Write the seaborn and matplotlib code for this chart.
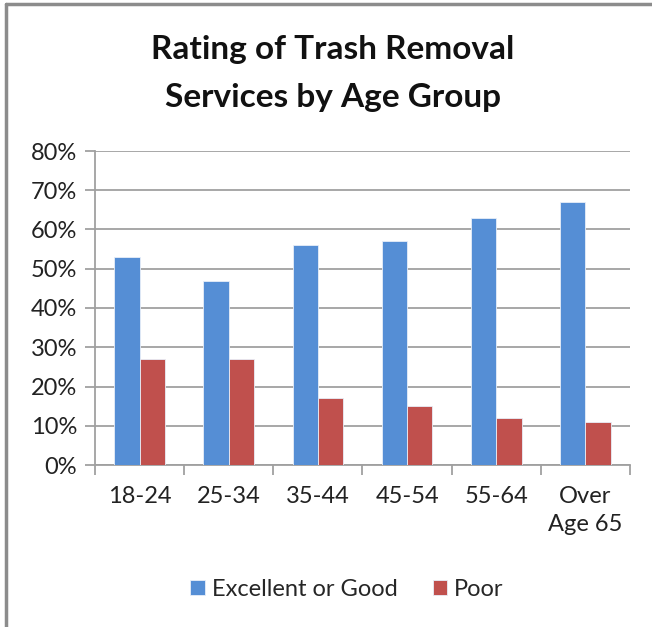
import pandas as pd
import numpy as np
import matplotlib
matplotlib.use("Agg")
import matplotlib.pyplot as plt
from matplotlib.lines import Line2D
from matplotlib.ticker import FuncFormatter, FixedLocator
import seaborn as sns

# ----------------------------------------------------------------------
# data
# ----------------------------------------------------------------------
age_groups = ["18-24", "25-34", "35-44", "45-54", "55-64", "Over\nAge 65"]
excellent_good = [53, 47, 56, 57, 63, 67]
poor = [27, 27, 17, 15, 12, 11]
series_names = ["Excellent or Good", "Poor"]
colors = ["#558ED5", "#C0504D"]

df = pd.DataFrame({
    "age": age_groups * 2,
    "pct": excellent_good + poor,
    "rating": [series_names[0]] * len(age_groups) + [series_names[1]] * len(age_groups),
})

sns.set_style("white")
plt.rcParams["font.family"] = ["Lato", "DejaVu Sans"]

fig = plt.figure(figsize=(6.52, 6.27), dpi=100)
ax = fig.add_axes([95 / 652, 1 - 465 / 627, (630 - 95) / 652, (465 - 151) / 627])

sns.barplot(data=df, x="age", y="pct", hue="rating", palette=colors, saturation=1,
            width=0.57, edgecolor="#E8EEF8", linewidth=0.6, ax=ax, zorder=3)

ax.set_ylim(0, 80)
ax.set_xlim(-0.5, len(age_groups) - 0.5)
ax.set_yticks(range(0, 81, 10))
ax.yaxis.set_major_formatter(FuncFormatter(lambda v, p: f"{int(v)}%"))
ax.yaxis.grid(True, color="#A0A0A0", linewidth=1.3, zorder=0)
ax.set_axisbelow(True)

# category boundary ticks on the x axis
ax.xaxis.set_minor_locator(FixedLocator(np.arange(-0.5, len(age_groups), 1.0)))
ax.tick_params(axis="x", which="major", length=0, labelsize=17, pad=15, colors="#222222")
ax.tick_params(axis="x", which="minor", length=7, width=1.3, color="#A0A0A0", bottom=True)
ax.tick_params(axis="y", which="major", length=7, width=1.3, color="#A0A0A0",
               left=True, labelsize=17, pad=6, labelcolor="#222222")
for lbl in ax.get_xticklabels():
    lbl.set_linespacing(1.45)

for side in ["top", "right"]:
    ax.spines[side].set_visible(False)
for side in ["left", "bottom"]:
    ax.spines[side].set_color("#A0A0A0")
    ax.spines[side].set_linewidth(1.3)

ax.set_xlabel("")
ax.set_ylabel("")

ax.legend(loc="center", bbox_to_anchor=(347 / 652, 1 - 589 / 627),
          bbox_transform=fig.transFigure, ncol=2, frameon=False,
          fontsize=17, handlelength=0.6, handleheight=0.6,
          handletextpad=0.3, columnspacing=1.5)

fig.text(333 / 652, 1 - 50 / 627, "Rating of Trash Removal", ha="center", va="center",
         fontsize=24, fontweight="bold", color="#111111")
fig.text(333 / 652, 1 - 97 / 627, "Services by Age Group", ha="center", va="center",
         fontsize=24, fontweight="bold", color="#111111")

# chart frame (only left and top edges are visible in the crop)
fig.add_artist(Line2D([6 / 652, 6 / 652], [0, 1 - 4 / 627], color="#8C8C8C",
                      linewidth=2.5, transform=fig.transFigure))
fig.add_artist(Line2D([6 / 652, 1], [1 - 4 / 627, 1 - 4 / 627], color="#8C8C8C",
                      linewidth=2.5, transform=fig.transFigure))

fig.savefig("out.png", dpi=100)
